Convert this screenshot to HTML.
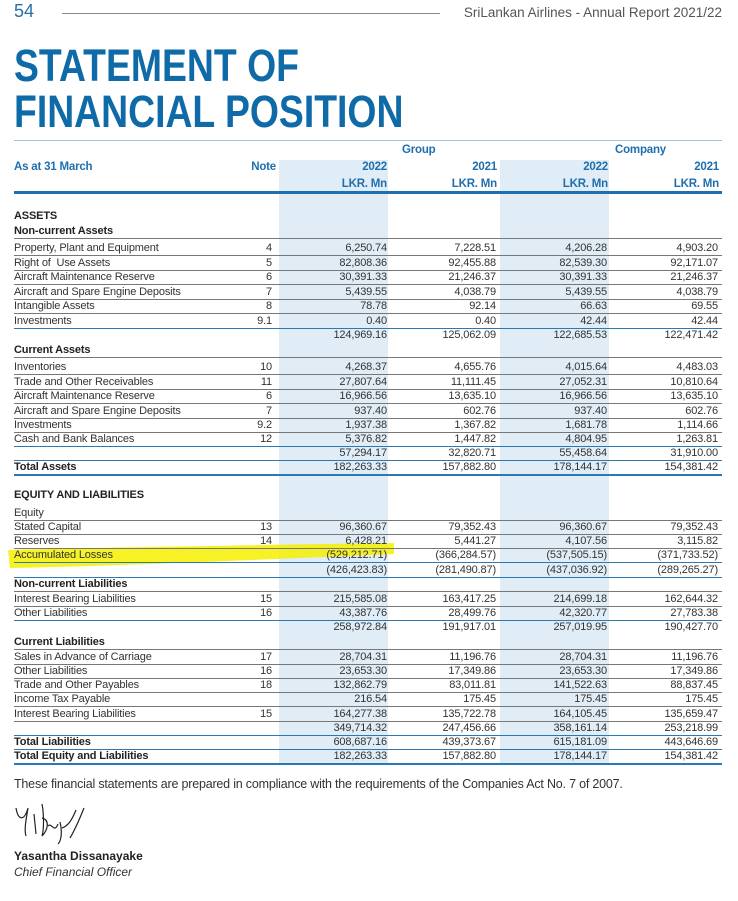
<!DOCTYPE html>
<html><head><meta charset="utf-8"><style>
body{margin:0;width:738px;height:901px;background:#fff;position:relative;overflow:hidden;font-family:"Liberation Sans",sans-serif;color:#333}
.a{position:absolute}
.sh{position:absolute;background:#e1edf6;top:160px;height:604px}
.r{position:absolute;left:14px;width:708px;height:14px;line-height:14px;font-size:11px;letter-spacing:-0.15px;border-bottom:1px solid #777}
.r.b{border-bottom:1.5px solid #2a78b4}
.r.n{border-bottom:none}
.r span{position:absolute;top:0;white-space:nowrap}
.r .l{left:0}
.r .t{right:450px}
.r .c1{right:335px}.r .c2{right:226px}.r .c3{right:115px}.r .c4{right:4px}
.bold{font-weight:bold;color:#222}
.h{position:absolute;color:#1f6fae;font-weight:bold;font-size:11.5px;letter-spacing:-0.2px;white-space:nowrap}
</style></head><body>
<div class="a" style="left:14px;top:1px;font-size:18px;color:#2a6fa8">54</div>
<div class="a" style="left:62px;top:13px;width:378px;height:1px;background:#888"></div>
<div class="a" style="right:16px;top:5px;font-size:13.5px;color:#555">SriLankan Airlines - Annual Report 2021/22</div>
<div class="a" style="left:14px;top:43px;font-size:45px;line-height:46px;font-weight:bold;color:#0f6aa8;transform:scaleX(0.83);transform-origin:left top;white-space:nowrap">STATEMENT OF<br>FINANCIAL POSITION</div>

<div class="a" style="left:14px;top:140px;width:708px;height:1px;background:#9cc6e4"></div>
<div class="sh" style="left:279px;width:109px"></div>
<div class="sh" style="left:500px;width:109px"></div>
<div class="h" style="left:402px;top:144px">Group</div>
<div class="h" style="left:615px;top:144px">Company</div>
<div class="h" style="left:14px;top:161px">As at 31 March</div>
<div class="h" style="right:462px;top:161px">Note</div>
<div class="h" style="right:351px;top:161px">2022</div>
<div class="h" style="right:241px;top:161px">2021</div>
<div class="h" style="right:130px;top:161px">2022</div>
<div class="h" style="right:19px;top:161px">2021</div>
<div class="h" style="right:351px;top:178px">LKR. Mn</div>
<div class="h" style="right:241px;top:178px">LKR. Mn</div>
<div class="h" style="right:130px;top:178px">LKR. Mn</div>
<div class="h" style="right:19px;top:178px">LKR. Mn</div>
<div class="a" style="left:14px;top:191px;width:708px;height:3px;background:#1f6fae"></div>

<svg class="a" style="left:0;top:540px" width="400" height="30"><path d="M8 10 C80 8 200 6 394 3 L394 14 C250 20 120 26 10 28 Z" fill="#f4f000" opacity="0.85"/></svg>

<div class="r n bold" style="top:209px"><span class="l">ASSETS</span></div>
<div class="r bold" style="top:224px"><span class="l">Non-current Assets</span></div>
<div class="r" style="top:241px"><span class="l">Property, Plant and Equipment</span><span class="t">4</span><span class="c1">6,250.74</span><span class="c2">7,228.51</span><span class="c3">4,206.28</span><span class="c4">4,903.20</span></div>
<div class="r" style="top:255.5px"><span class="l">Right of&nbsp; Use Assets</span><span class="t">5</span><span class="c1">82,808.36</span><span class="c2">92,455.88</span><span class="c3">82,539.30</span><span class="c4">92,171.07</span></div>
<div class="r" style="top:270px"><span class="l">Aircraft Maintenance Reserve</span><span class="t">6</span><span class="c1">30,391.33</span><span class="c2">21,246.37</span><span class="c3">30,391.33</span><span class="c4">21,246.37</span></div>
<div class="r" style="top:284.5px"><span class="l">Aircraft and Spare Engine Deposits</span><span class="t">7</span><span class="c1">5,439.55</span><span class="c2">4,038.79</span><span class="c3">5,439.55</span><span class="c4">4,038.79</span></div>
<div class="r" style="top:299px"><span class="l">Intangible Assets</span><span class="t">8</span><span class="c1">78.78</span><span class="c2">92.14</span><span class="c3">66.63</span><span class="c4">69.55</span></div>
<div class="r b" style="top:313.5px"><span class="l">Investments</span><span class="t">9.1</span><span class="c1">0.40</span><span class="c2">0.40</span><span class="c3">42.44</span><span class="c4">42.44</span></div>
<div class="r n" style="top:328px"><span class="c1">124,969.16</span><span class="c2">125,062.09</span><span class="c3">122,685.53</span><span class="c4">122,471.42</span></div>
<div class="r bold" style="top:342.5px"><span class="l">Current Assets</span></div>
<div class="r" style="top:360px"><span class="l">Inventories</span><span class="t">10</span><span class="c1">4,268.37</span><span class="c2">4,655.76</span><span class="c3">4,015.64</span><span class="c4">4,483.03</span></div>
<div class="r" style="top:374.5px"><span class="l">Trade and Other Receivables</span><span class="t">11</span><span class="c1">27,807.64</span><span class="c2">11,111.45</span><span class="c3">27,052.31</span><span class="c4">10,810.64</span></div>
<div class="r" style="top:389px"><span class="l">Aircraft Maintenance Reserve</span><span class="t">6</span><span class="c1">16,966.56</span><span class="c2">13,635.10</span><span class="c3">16,966.56</span><span class="c4">13,635.10</span></div>
<div class="r" style="top:403.5px"><span class="l">Aircraft and Spare Engine Deposits</span><span class="t">7</span><span class="c1">937.40</span><span class="c2">602.76</span><span class="c3">937.40</span><span class="c4">602.76</span></div>
<div class="r" style="top:418px"><span class="l">Investments</span><span class="t">9.2</span><span class="c1">1,937.38</span><span class="c2">1,367.82</span><span class="c3">1,681.78</span><span class="c4">1,114.66</span></div>
<div class="r b" style="top:432px"><span class="l">Cash and Bank Balances</span><span class="t">12</span><span class="c1">5,376.82</span><span class="c2">1,447.82</span><span class="c3">4,804.95</span><span class="c4">1,263.81</span></div>
<div class="r b" style="top:446px"><span class="c1">57,294.17</span><span class="c2">32,820.71</span><span class="c3">55,458.64</span><span class="c4">31,910.00</span></div>
<div class="r b" style="top:460px;border-bottom-width:2.5px"><span class="l bold">Total Assets</span><span class="c1">182,263.33</span><span class="c2">157,882.80</span><span class="c3">178,144.17</span><span class="c4">154,381.42</span></div>

<div class="r n bold" style="top:488px"><span class="l">EQUITY AND LIABILITIES</span></div>
<div class="r" style="top:506px"><span class="l">Equity</span></div>
<div class="r" style="top:520px"><span class="l">Stated Capital</span><span class="t">13</span><span class="c1">96,360.67</span><span class="c2">79,352.43</span><span class="c3">96,360.67</span><span class="c4">79,352.43</span></div>
<div class="r" style="top:534px"><span class="l">Reserves</span><span class="t">14</span><span class="c1">6,428.21</span><span class="c2">5,441.27</span><span class="c3">4,107.56</span><span class="c4">3,115.82</span></div>
<div class="r b" style="top:548px"><span class="l">Accumulated Losses</span><span class="c1">(529,212.71)</span><span class="c2">(366,284.57)</span><span class="c3">(537,505.15)</span><span class="c4">(371,733.52)</span></div>
<div class="r b" style="top:562.5px"><span class="c1">(426,423.83)</span><span class="c2">(281,490.87)</span><span class="c3">(437,036.92)</span><span class="c4">(289,265.27)</span></div>
<div class="r bold" style="top:577px"><span class="l">Non-current Liabilities</span></div>
<div class="r" style="top:592px"><span class="l">Interest Bearing Liabilities</span><span class="t">15</span><span class="c1">215,585.08</span><span class="c2">163,417.25</span><span class="c3">214,699.18</span><span class="c4">162,644.32</span></div>
<div class="r b" style="top:606px"><span class="l">Other Liabilities</span><span class="t">16</span><span class="c1">43,387.76</span><span class="c2">28,499.76</span><span class="c3">42,320.77</span><span class="c4">27,783.38</span></div>
<div class="r n" style="top:620px"><span class="c1">258,972.84</span><span class="c2">191,917.01</span><span class="c3">257,019.95</span><span class="c4">190,427.70</span></div>
<div class="r bold" style="top:635px"><span class="l">Current Liabilities</span></div>
<div class="r" style="top:650px"><span class="l">Sales in Advance of Carriage</span><span class="t">17</span><span class="c1">28,704.31</span><span class="c2">11,196.76</span><span class="c3">28,704.31</span><span class="c4">11,196.76</span></div>
<div class="r" style="top:664px"><span class="l">Other Liabilities</span><span class="t">16</span><span class="c1">23,653.30</span><span class="c2">17,349.86</span><span class="c3">23,653.30</span><span class="c4">17,349.86</span></div>
<div class="r" style="top:678px"><span class="l">Trade and Other Payables</span><span class="t">18</span><span class="c1">132,862.79</span><span class="c2">83,011.81</span><span class="c3">141,522.63</span><span class="c4">88,837.45</span></div>
<div class="r" style="top:692px"><span class="l">Income Tax Payable</span><span class="c1">216.54</span><span class="c2">175.45</span><span class="c3">175.45</span><span class="c4">175.45</span></div>
<div class="r" style="top:707px"><span class="l">Interest Bearing Liabilities</span><span class="t">15</span><span class="c1">164,277.38</span><span class="c2">135,722.78</span><span class="c3">164,105.45</span><span class="c4">135,659.47</span></div>
<div class="r b" style="top:721px"><span class="c1">349,714.32</span><span class="c2">247,456.66</span><span class="c3">358,161.14</span><span class="c4">253,218.99</span></div>
<div class="r b" style="top:735px"><span class="l bold">Total Liabilities</span><span class="c1">608,687.16</span><span class="c2">439,373.67</span><span class="c3">615,181.09</span><span class="c4">443,646.69</span></div>
<div class="r b" style="top:749px;border-bottom-width:2.5px"><span class="l bold">Total Equity and Liabilities</span><span class="c1">182,263.33</span><span class="c2">157,882.80</span><span class="c3">178,144.17</span><span class="c4">154,381.42</span></div>

<div class="a" style="left:14px;top:777px;font-size:12.5px;color:#333;letter-spacing:-0.2px">These financial statements are prepared in compliance with the requirements of the Companies Act No. 7 of 2007.</div>
<svg class="a" style="left:14px;top:800px" width="90" height="45" fill="none" stroke="#222" stroke-width="1.2"><path d="M2 8 C4 20 10 22 14 8 M14 8 C12 20 10 30 12 36 M20 14 L22 34 M28 4 C30 14 30 30 28 36 C34 30 36 20 28 18 M34 26 C38 22 40 34 44 24 M46 22 C48 30 48 40 44 44 M48 28 C54 26 58 20 62 10 M56 38 C62 28 66 18 70 8"/></svg>
<div class="a" style="left:14px;top:849px;font-size:12px;font-weight:bold;color:#222">Yasantha Dissanayake</div>
<div class="a" style="left:14px;top:865px;font-size:12px;font-style:italic;color:#333">Chief Financial Officer</div>
</body></html>
